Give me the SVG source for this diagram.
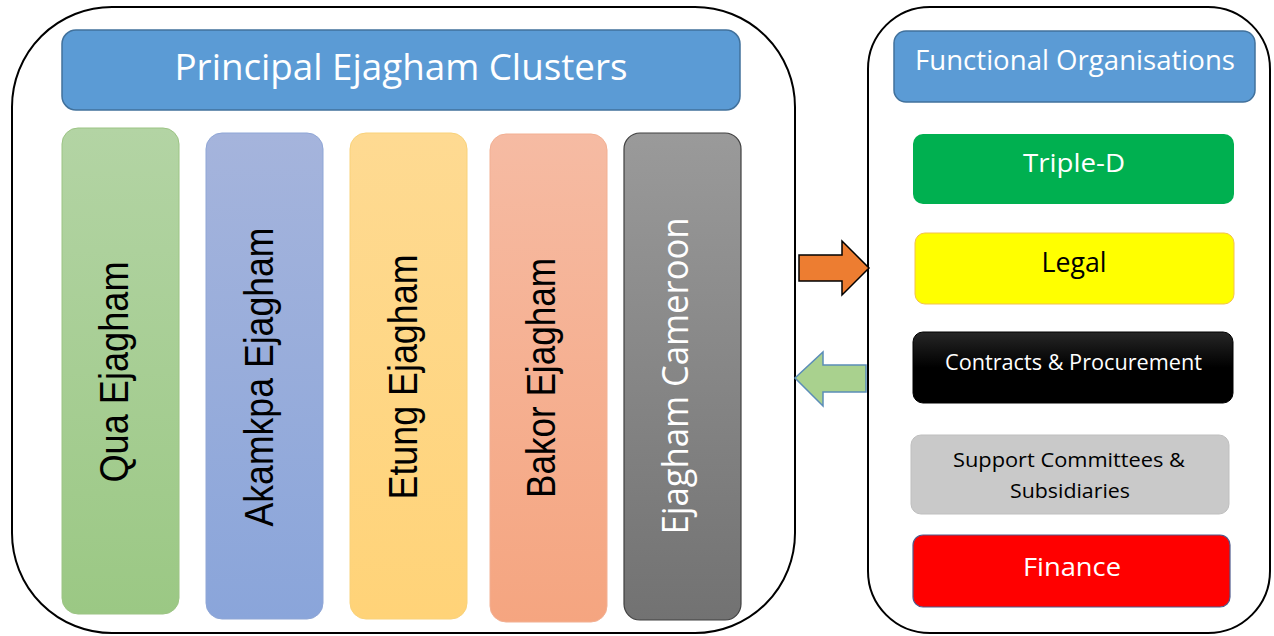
<svg xmlns="http://www.w3.org/2000/svg" width="1274" height="636" viewBox="0 0 1274 636">
<defs>
<linearGradient id="gQua" x1="0" y1="0" x2="0" y2="1"><stop offset="0" stop-color="#B3D4A4"/><stop offset="1" stop-color="#9BC884"/></linearGradient>
<linearGradient id="gAka" x1="0" y1="0" x2="0" y2="1"><stop offset="0" stop-color="#A5B4DC"/><stop offset="1" stop-color="#8AA5DA"/></linearGradient>
<linearGradient id="gEtu" x1="0" y1="0" x2="0" y2="1"><stop offset="0" stop-color="#FEDA92"/><stop offset="1" stop-color="#FFD378"/></linearGradient>
<linearGradient id="gBak" x1="0" y1="0" x2="0" y2="1"><stop offset="0" stop-color="#F6BBA3"/><stop offset="1" stop-color="#F5A580"/></linearGradient>
<linearGradient id="gCam" x1="0" y1="0" x2="0" y2="1"><stop offset="0" stop-color="#9A9A9A"/><stop offset="1" stop-color="#727272"/></linearGradient>
<linearGradient id="gBlk" x1="0" y1="0" x2="0" y2="1"><stop offset="0" stop-color="#262626"/><stop offset="0.5" stop-color="#000000"/><stop offset="1" stop-color="#000000"/></linearGradient>
</defs>
<style>
.outer{fill:#FFFFFF;stroke:#000000;stroke-width:2}
.hdr{fill:#5B9BD5;stroke:#41719C;stroke-width:1.5}
.cal{font-family:"Open Sans","Noto Sans",sans-serif}
.ari{font-family:"Liberation Sans",Arial,sans-serif}
.w{fill:#FFFFFF}
.k{fill:#000000}
</style>
<g id="left-panel">
<rect class="outer" x="12" y="7" width="783" height="626" rx="100" ry="100"/>
</g>
<g id="right-panel">
<rect class="outer" x="868" y="7" width="402" height="626" rx="62" ry="62"/>
</g>
<g id="principal-header">
<rect class="hdr" x="62" y="30" width="678" height="80" rx="14"/>
<text class="cal w" x="401" y="80" font-size="36" text-anchor="middle" textLength="453" lengthAdjust="spacingAndGlyphs">Principal Ejagham Clusters</text>
</g>
<g id="qua">
<rect x="62" y="128" width="117" height="486" rx="16" fill="url(#gQua)" stroke="#9CC484" stroke-width="1"/>
<text class="ari k" transform="translate(128,372) rotate(-90)" x="0" y="0" font-size="40" text-anchor="middle" textLength="221" lengthAdjust="spacingAndGlyphs">Qua Ejagham</text>
</g>
<g id="akamkpa">
<rect x="206" y="133" width="117" height="486" rx="16" fill="url(#gAka)" stroke="#8FA6D6" stroke-width="1"/>
<text class="ari k" transform="translate(273,377) rotate(-90)" x="0" y="0" font-size="40" text-anchor="middle" textLength="299" lengthAdjust="spacingAndGlyphs">Akamkpa Ejagham</text>
</g>
<g id="etung">
<rect x="350" y="133" width="117" height="486" rx="16" fill="url(#gEtu)" stroke="#F9D27A" stroke-width="1"/>
<text class="ari k" transform="translate(417,377) rotate(-90)" x="0" y="0" font-size="40" text-anchor="middle" textLength="245" lengthAdjust="spacingAndGlyphs">Etung Ejagham</text>
</g>
<g id="bakor">
<rect x="490" y="134" width="117" height="488" rx="16" fill="url(#gBak)" stroke="#F2B093" stroke-width="1"/>
<text class="ari k" transform="translate(555,378) rotate(-90)" x="0" y="0" font-size="40" text-anchor="middle" textLength="240" lengthAdjust="spacingAndGlyphs">Bakor Ejagham</text>
</g>
<g id="cameroon">
<rect x="624" y="133" width="117" height="487" rx="16" fill="url(#gCam)" stroke="#404040" stroke-width="1.2"/>
<text class="cal w" transform="translate(688,376) rotate(-90)" x="0" y="0" font-size="37" text-anchor="middle" textLength="317" lengthAdjust="spacingAndGlyphs">Ejagham Cameroon</text>
</g>
<g id="connectors">
<polygon points="799,255 842,255 842,241 869,268 842,295 842,281 799,281" fill="#ED7D31" stroke="#000000" stroke-width="1.5" stroke-linejoin="miter"/>
<polygon points="866,365 823,365 823,352 795,378 823,406 823,392 866,392" fill="#A9D18E" stroke="#5B8DB8" stroke-width="1.5"/>
</g>
<g id="functional-header">
<rect class="hdr" x="894" y="31" width="361" height="71" rx="12"/>
<text class="cal w" x="1075" y="70" font-size="28" text-anchor="middle" textLength="320" lengthAdjust="spacingAndGlyphs">Functional Organisations</text>
</g>
<g id="triple-d">
<rect x="913" y="134" width="321" height="70" rx="10" fill="#00B050"/>
<text class="cal w" x="1074" y="172" font-size="26" text-anchor="middle" textLength="102" lengthAdjust="spacingAndGlyphs">Triple-D</text>
</g>
<g id="legal">
<rect x="915" y="233" width="319" height="71" rx="10" fill="#FFFF00" stroke="#F2C14E" stroke-width="1"/>
<text class="cal k" x="1074" y="272" font-size="27" text-anchor="middle" textLength="65" lengthAdjust="spacingAndGlyphs">Legal</text>
</g>
<g id="contracts">
<rect x="913" y="332" width="320" height="71" rx="10" fill="url(#gBlk)" stroke="#000000" stroke-width="1"/>
<text class="cal w" x="1073.5" y="370" font-size="21" text-anchor="middle" textLength="257" lengthAdjust="spacingAndGlyphs">Contracts &amp; Procurement</text>
</g>
<g id="support">
<rect x="911" y="435" width="318" height="79" rx="10" fill="#C9C9C9" stroke="#BFBFBF" stroke-width="1"/>
<text class="cal k" x="1069" y="467" font-size="20" text-anchor="middle" textLength="232" lengthAdjust="spacingAndGlyphs">Support Committees &amp;</text>
<text class="cal k" x="1070" y="498" font-size="20" text-anchor="middle" textLength="120" lengthAdjust="spacingAndGlyphs">Subsidiaries</text>
</g>
<g id="finance">
<rect x="913" y="535" width="317" height="72" rx="10" fill="#FF0000" stroke="#4F5A8C" stroke-width="1.2"/>
<text class="cal w" x="1072" y="576" font-size="26" text-anchor="middle" textLength="98" lengthAdjust="spacingAndGlyphs">Finance</text>
</g>
</svg>
